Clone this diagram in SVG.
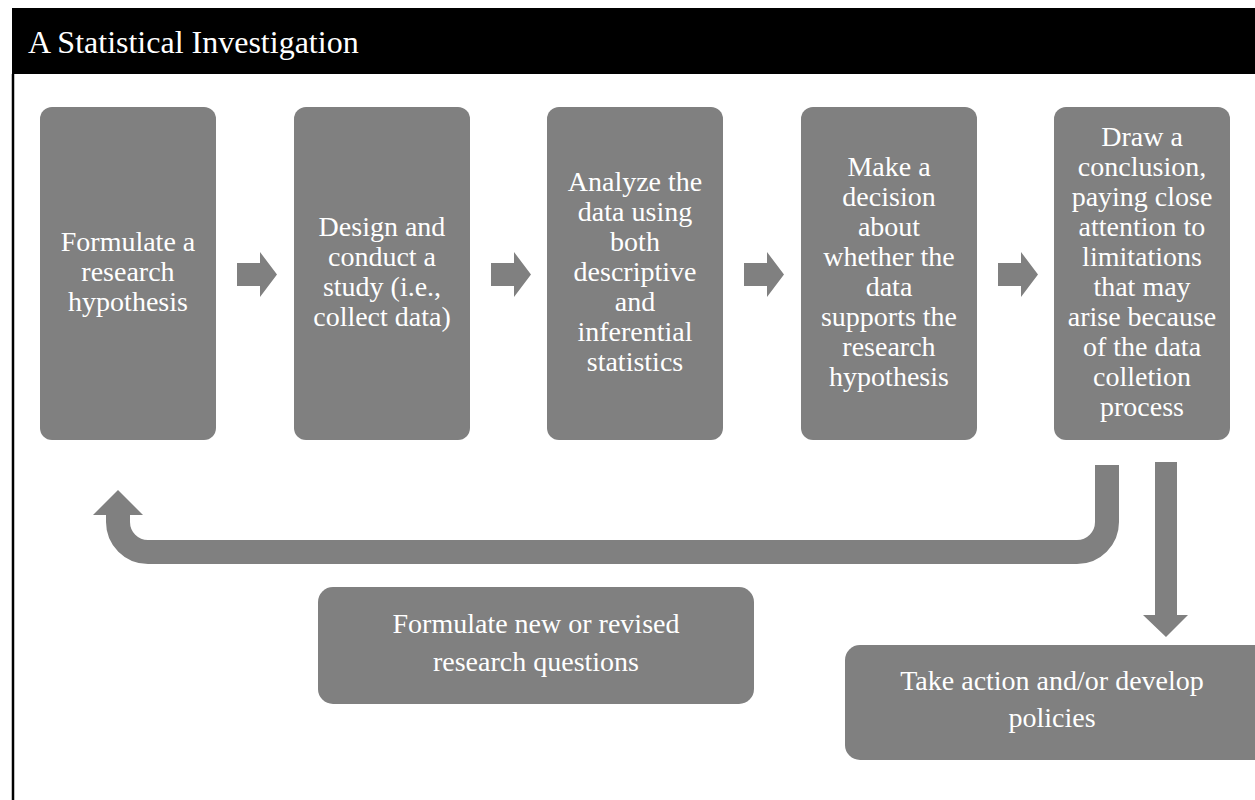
<svg xmlns="http://www.w3.org/2000/svg" width="1255" height="800" viewBox="0 0 1255 800">
  <style>
    .box { fill: #808080; }
    .lbl { fill: #ffffff; font-family: "Liberation Serif", "DejaVu Serif", serif; font-size: 28px; text-anchor: middle; }
    .title { fill: #ffffff; font-family: "Liberation Serif", "DejaVu Serif", serif; font-size: 32px; }
    .conn { fill: #808080; }
    .connline { fill: none; stroke: #808080; stroke-width: 24; }
  </style>
  <defs>
    <path id="blk" d="M0,-11.5 H23 V-22.5 L40,0 L23,22.5 V11.5 H0 Z"/>
  </defs>
  <rect x="0" y="0" width="1255" height="800" fill="#ffffff"/>
  <g id="header">
    <rect x="12" y="8" width="1243" height="66" fill="#000000"/>
    <line x1="13" y1="74" x2="13" y2="800" stroke="#000000" stroke-width="2.5"/>
    <text class="title" x="28" y="53">A Statistical Investigation</text>
  </g>

  <g id="connectors">
    <use href="#blk" class="conn" x="237" y="274.5"/>
    <use href="#blk" class="conn" x="491" y="274.5"/>
    <use href="#blk" class="conn" x="744" y="274.5"/>
    <use href="#blk" class="conn" x="998" y="274.5"/>
    <path class="connline" d="M1107,465 V522 A30,30 0 0 1 1077,552 H148 A30,30 0 0 1 118,522 V512"/>
    <polygon class="conn" points="93,515 118,490 143,515"/>
    <path class="conn" d="M1155,462 H1177 V615 H1188 L1166,637 L1143,615 H1155 Z"/>
  </g>

  <g id="node1">
    <rect class="box" x="40" y="107" width="176" height="333" rx="12"/>
    <text class="lbl" x="128" y="251">Formulate a</text>
    <text class="lbl" x="128" y="281">research</text>
    <text class="lbl" x="128" y="311">hypothesis</text>
  </g>
  <g id="node2">
    <rect class="box" x="294" y="107" width="176" height="333" rx="12"/>
    <text class="lbl" x="382" y="236">Design and</text>
    <text class="lbl" x="382" y="266">conduct a</text>
    <text class="lbl" x="382" y="296">study (i.e.,</text>
    <text class="lbl" x="382" y="326">collect data)</text>
  </g>
  <g id="node3">
    <rect class="box" x="547" y="107" width="176" height="333" rx="12"/>
    <text class="lbl" x="635" y="191">Analyze the</text>
    <text class="lbl" x="635" y="221">data using</text>
    <text class="lbl" x="635" y="251">both</text>
    <text class="lbl" x="635" y="281">descriptive</text>
    <text class="lbl" x="635" y="311">and</text>
    <text class="lbl" x="635" y="341">inferential</text>
    <text class="lbl" x="635" y="371">statistics</text>
  </g>
  <g id="node4">
    <rect class="box" x="801" y="107" width="176" height="333" rx="12"/>
    <text class="lbl" x="889" y="176">Make a</text>
    <text class="lbl" x="889" y="206">decision</text>
    <text class="lbl" x="889" y="236">about</text>
    <text class="lbl" x="889" y="266">whether the</text>
    <text class="lbl" x="889" y="296">data</text>
    <text class="lbl" x="889" y="326">supports the</text>
    <text class="lbl" x="889" y="356">research</text>
    <text class="lbl" x="889" y="386">hypothesis</text>
  </g>
  <g id="node5">
    <rect class="box" x="1054" y="107" width="176" height="333" rx="12"/>
    <text class="lbl" x="1142" y="146">Draw a</text>
    <text class="lbl" x="1142" y="176">conclusion,</text>
    <text class="lbl" x="1142" y="206">paying close</text>
    <text class="lbl" x="1142" y="236">attention to</text>
    <text class="lbl" x="1142" y="266">limitations</text>
    <text class="lbl" x="1142" y="296">that may</text>
    <text class="lbl" x="1142" y="326">arise because</text>
    <text class="lbl" x="1142" y="356">of the data</text>
    <text class="lbl" x="1142" y="386">colletion</text>
    <text class="lbl" x="1142" y="416">process</text>
  </g>
  <g id="node6">
    <rect class="box" x="318" y="587" width="436" height="117" rx="15"/>
    <text class="lbl" x="536" y="633">Formulate new or revised</text>
    <text class="lbl" x="536" y="671">research questions</text>
  </g>
  <g id="node7">
    <rect class="box" x="845" y="645" width="425" height="115" rx="15"/>
    <text class="lbl" x="1052" y="690">Take action and/or develop</text>
    <text class="lbl" x="1052" y="727">policies</text>
  </g>
</svg>
